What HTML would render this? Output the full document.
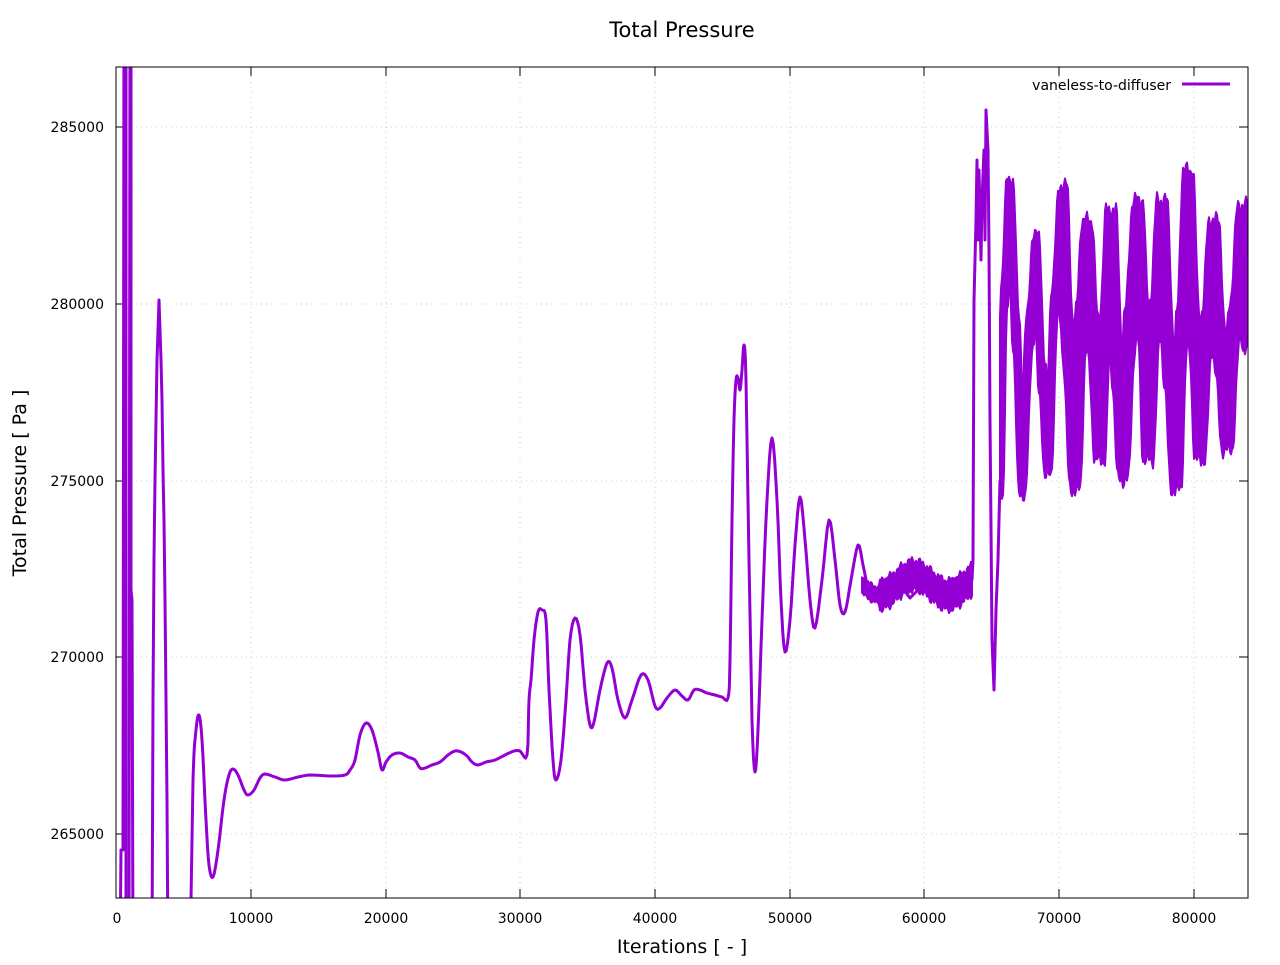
<!DOCTYPE html>
<html><head><meta charset="utf-8"><style>
body{margin:0;background:#fff;}
svg text{font-family:"DejaVu Sans","Liberation Sans",sans-serif;fill:#000;}
</style></head><body>
<svg id="s" width="1280" height="960" xmlns="http://www.w3.org/2000/svg">
<rect width="1280" height="960" fill="#fff"/>
<g stroke="#ccc" stroke-width="1" stroke-dasharray="1,4">
<line x1="251" y1="67" x2="251" y2="898"/><line x1="386" y1="67" x2="386" y2="898"/>
<line x1="520" y1="67" x2="520" y2="898"/><line x1="655" y1="67" x2="655" y2="898"/>
<line x1="790" y1="67" x2="790" y2="898"/><line x1="924" y1="67" x2="924" y2="898"/>
<line x1="1059" y1="67" x2="1059" y2="898"/><line x1="1194" y1="67" x2="1194" y2="898"/>
<line x1="116" y1="127" x2="1248" y2="127"/><line x1="116" y1="304" x2="1248" y2="304"/>
<line x1="116" y1="481" x2="1248" y2="481"/><line x1="116" y1="657" x2="1248" y2="657"/>
<line x1="116" y1="834" x2="1248" y2="834"/>
</g>
<g stroke="#000" stroke-width="1">
<line x1="116" y1="127" x2="125" y2="127"/><line x1="116" y1="304" x2="125" y2="304"/><line x1="116" y1="481" x2="125" y2="481"/><line x1="116" y1="657" x2="125" y2="657"/><line x1="116" y1="834" x2="125" y2="834"/>
<line x1="1239" y1="127" x2="1248" y2="127"/><line x1="1239" y1="304" x2="1248" y2="304"/><line x1="1239" y1="481" x2="1248" y2="481"/><line x1="1239" y1="657" x2="1248" y2="657"/><line x1="1239" y1="834" x2="1248" y2="834"/>
<line x1="251" y1="898" x2="251" y2="889"/><line x1="386" y1="898" x2="386" y2="889"/><line x1="520" y1="898" x2="520" y2="889"/><line x1="655" y1="898" x2="655" y2="889"/><line x1="790" y1="898" x2="790" y2="889"/><line x1="924" y1="898" x2="924" y2="889"/><line x1="1059" y1="898" x2="1059" y2="889"/><line x1="1194" y1="898" x2="1194" y2="889"/>
<line x1="251" y1="67" x2="251" y2="76"/><line x1="386" y1="67" x2="386" y2="76"/><line x1="520" y1="67" x2="520" y2="76"/><line x1="655" y1="67" x2="655" y2="76"/><line x1="790" y1="67" x2="790" y2="76"/><line x1="924" y1="67" x2="924" y2="76"/><line x1="1059" y1="67" x2="1059" y2="76"/><line x1="1194" y1="67" x2="1194" y2="76"/>
</g>
<defs><clipPath id="c"><rect x="116" y="67" width="1132" height="831"/></clipPath></defs>
<g clip-path="url(#c)">
<path id="f" d="" fill="#9400d3" stroke="#9400d3" stroke-width="2" stroke-linejoin="round"/>
<path id="p" d="" fill="none" stroke="#9400d3" stroke-width="3" stroke-linejoin="round"/>
</g>
<rect x="116" y="67" width="1132" height="831" fill="none" stroke="#000" stroke-width="1"/>
<g font-size="14" text-anchor="end">
<text x="104" y="132">285000</text><text x="104" y="309">280000</text><text x="104" y="486">275000</text><text x="104" y="662">270000</text><text x="104" y="839">265000</text>
</g>
<g font-size="14" text-anchor="middle">
<text x="117" y="923">0</text><text x="251" y="923">10000</text><text x="386" y="923">20000</text><text x="520" y="923">30000</text><text x="655" y="923">40000</text><text x="790" y="923">50000</text><text x="924" y="923">60000</text><text x="1059" y="923">70000</text><text x="1194" y="923">80000</text>
</g>
<text x="682" y="37" font-size="21" text-anchor="middle">Total Pressure</text>
<text x="682" y="953" font-size="19" text-anchor="middle">Iterations [ - ]</text>
<text transform="translate(26,483) rotate(-90)" font-size="19" text-anchor="middle">Total Pressure [ Pa ]</text>
<text x="1171" y="90" font-size="14" text-anchor="end">vaneless-to-diffuser</text>
<line x1="1182" y1="84" x2="1230" y2="84" stroke="#9400d3" stroke-width="3"/>
</svg>
<script>
var P=[[116,960],[120,960],[121,850],[123,850],[124,0],[126,0],[126,960],[129,960],[130,0],[131,0],[131,590],[132,600],[133,960],[152,960],[153,700],[154,560],[155,480],[156,420],[157,360],[158,330],[159,300],[160,330],[161,360],[162,400],[163,470],[164,520],[165,600],[166,700],[167,800],[168,960],[190,960],[193,780],[196,730],[199,715],[202,740],[206,820],[209,865],[213,877],[218,850],[224,800],[229,775],[233,769],[238,775],[244,790],[248,795],[254,790],[260,778],[265,774],[275,777],[285,780],[298,777],[310,775],[330,776],[345,775],[350,770],[355,760],[360,735],[366,723],[372,730],[378,752],[382,770],[386,762],[392,755],[400,753],[408,757],[415,760],[420,768],[425,768],[432,765],[440,762],[448,755],[455,751],[461,752],[467,756],[472,762],[478,765],[486,762],[495,760],[505,755],[514,751],[520,751],[527,755],[529,700],[531,680],[534,640],[538,612],[542,610],[546,620],[549,690],[553,760],[556,780],[561,760],[566,700],[570,640],[575,618],[580,635],[585,690],[590,725],[594,722],[600,690],[607,663],[612,668],[618,700],[625,718],[632,700],[641,675],[648,680],[655,706],[660,708],[667,698],[675,690],[682,696],[688,700],[694,690],[700,690],[707,693],[715,695],[722,697],[728,698],[730,660],[732,520],[734,420],[736,380],[738,378],[740,390],[742,370],[744,345],[746,380],[749,560],[752,720],[755,772],[758,730],[762,620],[767,500],[772,438],[777,500],[781,600],[785,652],[790,620],[795,545],[800,497],[805,540],[810,600],[815,628],[822,580],[829,520],[835,560],[840,605],[845,612],[851,580],[858,545],[863,565],[868,590]];
function spline(pts){var out=[];for(var i=0;i<pts.length-1;i++){var p0=pts[Math.max(0,i-1)],p1=pts[i],p2=pts[i+1],p3=pts[Math.min(pts.length-1,i+2)];
 if(Math.abs(p2[1]-p1[1])>150||p1[0]<190){out.push(p1);continue;}
 for(var t=0;t<1;t+=0.25){var t2=t*t,t3=t2*t;var f=function(a,b,c,d){return 0.5*((2*b)+(-a+c)*t+(2*a-5*b+4*c-d)*t2+(-a+3*b-3*c+d)*t3)};out.push([f(p0[0],p1[0],p2[0],p3[0]),f(p0[1],p1[1],p2[1],p3[1])]);}}
 out.push(pts[pts.length-1]);return out;}
var S=spline(P);
var d="M"+S.map(function(p){return p[0].toFixed(1)+","+p[1].toFixed(1)}).join(" L");
d+=" L878,590 L885,580 L892,575 L900,585 L910,598 L918,590 L925,580 L932,585 L940,598 L948,590 L956,578 L964,575 L972,580 L973,560 L974,300 L976,220 L977,160 L978,240 L979,170 L981,260 L982,200 L984,150 L985,240 L986,110 L988,150 L989,250 L990,420 L992,640 L994,690 L996,610 L998,560 L1000,480";
document.getElementById("p").setAttribute("d",d);
var E=[[1000,480],[1004,300],[1010,195],[1016,330],[1022,480],[1030,330],[1036,250],[1042,380],[1048,460],[1055,300],[1062,205],[1068,340],[1075,470],[1081,330],[1087,240],[1093,340],[1100,440],[1105,330],[1111,230],[1117,360],[1123,460],[1130,330],[1138,220],[1143,320],[1148,440],[1155,320],[1162,220],[1169,360],[1176,470],[1182,330],[1188,190],[1194,330],[1200,440],[1207,330],[1214,240],[1220,350],[1227,430],[1235,320],[1243,225],[1248,330],[1260,330]];
function slow(x){for(var i=0;i<E.length-1;i++){if(x>=E[i][0]&&x<=E[i+1][0]){var t=(x-E[i][0])/(E[i+1][0]-E[i][0]);t=(1-Math.cos(Math.PI*t))/2;return E[i][1]+(E[i+1][1]-E[i][1])*t;}}return 330;}
function jit(x,s){return Math.sin(x*1.7+s)*0.5+Math.sin(x*0.63+2*s)*0.5;}
var up=[],lo=[];
for(var x=1000;x<=1250;x+=1){var a=(x<1060?20:26);var mn=1e9,mx=-1e9;
 var hw=(x<1060?3:5);
 for(var dx=-hw;dx<=hw;dx+=0.5){var v=slow(Math.max(1000,x+dx));if(v<mn)mn=v;if(v>mx)mx=v;}
 up.push([x,mn-a*(0.75+0.35*jit(x,1))]);lo.push([x,mx+a*(0.75+0.35*jit(x,2))]);}
var f="M"+up.map(function(p){return p[0]+","+p[1].toFixed(1)}).join(" L")+" L"+lo.reverse().map(function(p){return p[0]+","+p[1].toFixed(1)}).join(" L")+" Z";
up=[];lo=[];
for(var x=862;x<=972;x+=1){var c=585+10*Math.sin((x-862)/11);var a=(x<880?10:18)*(0.8+0.25*jit(x,3));
 up.push([x,c-a]);lo.push([x,c+a]);}
f+=" M"+up.map(function(p){return p[0]+","+p[1].toFixed(1)}).join(" L")+" L"+lo.reverse().map(function(p){return p[0]+","+p[1].toFixed(1)}).join(" L")+" Z";
document.getElementById("f").setAttribute("d",f);
</script>
</body></html>
